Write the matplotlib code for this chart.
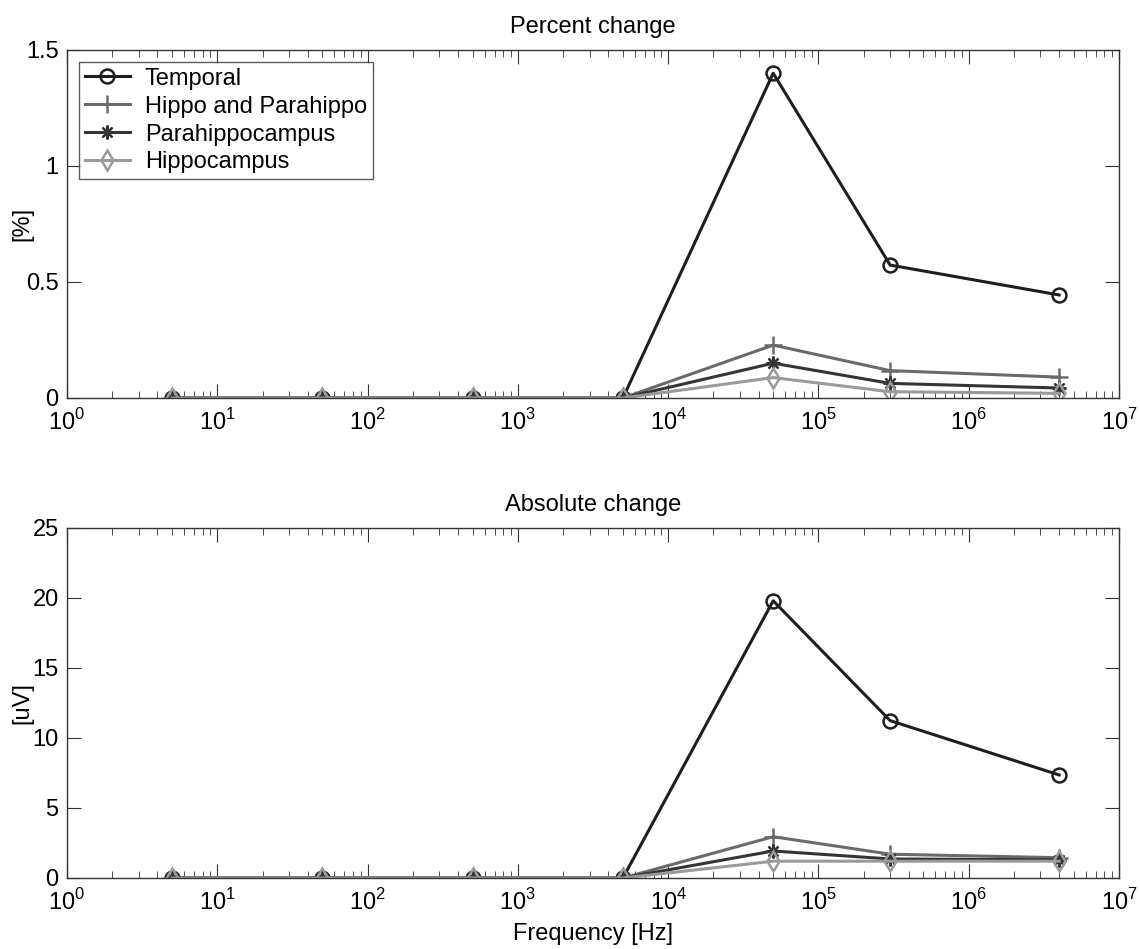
import matplotlib
matplotlib.use("Agg")
import matplotlib.pyplot as plt

plt.rcParams['font.family'] = ['Liberation Sans', 'DejaVu Sans']
plt.rcParams['mathtext.fontset'] = 'custom'
plt.rcParams['mathtext.rm'] = 'Liberation Sans'

# stimulation frequencies [Hz]
freq = [5, 50, 500, 5000, 50000, 300000, 4000000]

# percent change per region
pct_temporal = [0, 0, 0, 0, 1.40, 0.573, 0.444]
pct_hippo_para = [0, 0, 0, 0, 0.228, 0.118, 0.090]
pct_parahippo = [0, 0, 0, 0, 0.150, 0.063, 0.043]
pct_hippo = [0, 0, 0, 0, 0.088, 0.027, 0.020]

# absolute change per region [uV]
abs_temporal = [0, 0, 0, 0, 19.8, 11.24, 7.36]
abs_hippo_para = [0, 0, 0, 0, 2.95, 1.70, 1.45]
abs_parahippo = [0, 0, 0, 0, 1.93, 1.36, 1.30]
abs_hippo = [0, 0, 0, 0, 1.20, 1.20, 1.20]

labels = ['Temporal', 'Hippo and Parahippo', 'Parahippocampus', 'Hippocampus']
styles = [
    dict(color='#1e1e1e', marker='o', mfc='none', ms=10, mew=1.8),
    dict(color='#6a6a6a', marker='+', ms=13, mew=1.8),
    dict(color='#353535', marker=(8, 2, 0), ms=10, mew=1.6),
    dict(color='#9a9a9a', marker='d', mfc='none', ms=10, mew=1.8),
]

decades = list(range(8))
FS = 17

fig = plt.figure(figsize=(11.4, 9.49), dpi=100)
ax1 = fig.add_axes([67/1140, 1-398/949, 1052/1140, 348/949])
ax2 = fig.add_axes([67/1140, 1-878/949, 1052/1140, 350/949])


def draw(ax, series, ylim, yticks, ylabel, title):
    for vals, lab, st in zip(series, labels, styles):
        ax.plot(freq, vals, lw=2.2, label=lab, **st)
    ax.set_xscale('log')
    ax.set_xlim(1, 1e7)
    ax.set_ylim(*ylim)
    ax.set_yticks(yticks, labels=[f'{t:g}' for t in yticks])
    ax.set_xticks([10.0**d for d in decades],
                  labels=[f'$10^{{{d}}}$' for d in decades])
    ax.set_xticks([m * 10.0**d for d in decades[:-1] for m in range(2, 10)],
                  minor=True)
    ax.tick_params(which='both', direction='in', top=True, right=True,
                   labelsize=FS, color='#333333')
    ax.tick_params(axis='y', pad=6)
    ax.tick_params(axis='x', pad=8)
    ax.tick_params(which='major', length=10)
    ax.tick_params(which='minor', length=5)
    for sp in ax.spines.values():
        sp.set_color('#333333')
        sp.set_linewidth(1.0)
    ax.set_ylabel(ylabel, fontsize=FS)
    ax.yaxis.set_label_coords(-0.032, 0.5)
    ax.set_title(title, fontsize=FS, pad=12)


draw(ax1, [pct_temporal, pct_hippo_para, pct_parahippo, pct_hippo],
     (0, 1.5), [0, 0.5, 1, 1.5], '[%]', 'Percent change')
draw(ax2, [abs_temporal, abs_hippo_para, abs_parahippo, abs_hippo],
     (0, 25), [0, 5, 10, 15, 20, 25], '[uV]', 'Absolute change')
ax2.set_xlabel('Frequency [Hz]', fontsize=FS, labelpad=6)

leg = ax1.legend(loc='upper left', fontsize=FS, frameon=True, fancybox=False,
                 edgecolor='#333333', handlelength=1.9, borderaxespad=0.5,
                 labelspacing=0.25, borderpad=0.25, handletextpad=0.65)
leg.get_frame().set_linewidth(1.0)

fig.savefig('out.png', dpi=100)
